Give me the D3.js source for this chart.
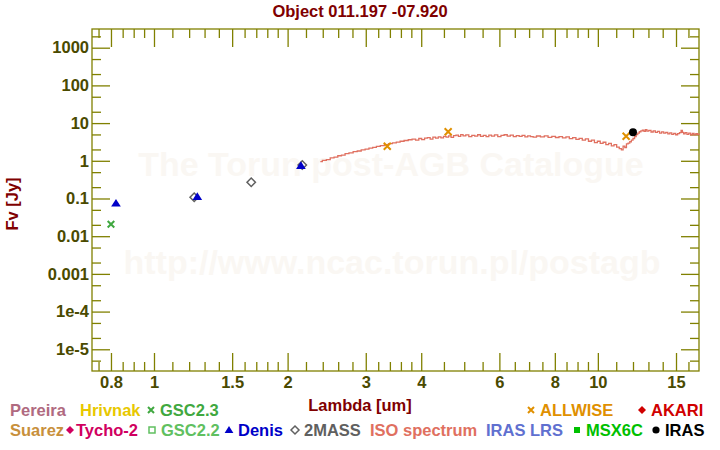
<!DOCTYPE html>
<html>
<head>
<meta charset="utf-8">
<script src="https://cdn.jsdelivr.net/npm/d3@7"></script>
<style>
  html, body { margin: 0; padding: 0; background: #fff; }
  svg { display: block; font-family: "Liberation Sans", Arial, sans-serif; font-weight: bold; }
</style>
</head>
<body>
<svg id="chart" width="720" height="450"></svg>
<script>
// ---------------- data ----------------
const title = "Object 011.197 -07.920";
const xMajorTicks = [0.8, 1, 1.5, 2, 3, 4, 6, 8, 10, 15];
const xTickLabels = ["0.8", "1", "1.5", "2", "3", "4", "6", "8", "10", "15"];
const xMinorTicks = [0.75, 0.85, 0.9, 0.95, 1.1, 1.2, 1.3, 1.4, 1.6, 1.7, 1.8, 1.9,
  2.2, 2.4, 2.6, 2.8, 3.2, 3.4, 3.6, 3.8, 4.5, 5, 5.5, 6.5, 7, 7.5, 8.5, 9, 9.5,
  11, 12, 13, 14, 16];
const yMajorTicks = [1000, 100, 10, 1, 0.1, 0.01, 0.001, 1e-4, 1e-5];
const yTickLabels = ["1000", "100", "10", "1", "0.1", "0.01", "0.001", "1e-4", "1e-5"];
const yMinorTicks = [2000, 500, 200, 50, 20, 5, 2, 0.5, 0.2, 0.05, 0.02, 0.005, 0.002,
  5e-4, 2e-4, 5e-5, 2e-5, 5e-6];

// photometry
const gsc23Lambda = [0.80];
const gsc23Flux = [0.0207];
const denisLambda = [0.821, 1.252, 2.143];
const denisFlux = [0.0746, 0.112, 0.741];
const twomassLambda = [1.232, 1.656, 2.158];
const twomassFlux = [0.108, 0.269, 0.774];
const allwiseLambda = [3.354, 4.60, 11.58];
const allwiseFlux = [2.42, 5.91, 4.47];
const irasLambda = [12.0];
const irasFlux = [5.70];

// ISO spectrum
const isoLambda = [2.37, 2.42, 2.47, 2.52, 2.57, 2.62, 2.67, 2.72, 2.78, 2.84, 2.90, 2.96,
  3.02, 3.08, 3.14, 3.20, 3.27, 3.34, 3.41, 3.48, 3.55, 3.62, 3.70, 3.78, 3.85, 3.92,
  3.98, 4.04, 4.10, 4.16, 4.22, 4.28, 4.34, 4.40, 4.46, 4.52, 4.58, 4.64, 4.70, 4.76,
  4.82, 4.88, 4.94, 5.00, 5.08, 5.16, 5.24, 5.32, 5.40, 5.48, 5.56, 5.64, 5.72, 5.80,
  5.90, 6.00, 6.10, 6.20, 6.30, 6.40, 6.50, 6.60, 6.70, 6.80, 6.90, 7.00, 7.10, 7.20,
  7.35, 7.50, 7.65, 7.80, 7.95, 8.10, 8.25, 8.40, 8.55, 8.70, 8.85, 9.00, 9.15, 9.30,
  9.45, 9.60, 9.75, 9.90, 10.05, 10.20, 10.35, 10.50, 10.65, 10.80, 10.95, 11.10, 11.25,
  11.35, 11.45, 11.55, 11.65, 11.75, 11.85, 11.95, 12.05, 12.15, 12.25, 12.35, 12.45,
  12.55, 12.65, 12.75, 12.85, 12.95, 13.10, 13.25, 13.40, 13.55, 13.70, 13.85, 14.00,
  14.15, 14.30, 14.45, 14.60, 14.75, 14.90, 15.05, 15.20, 15.35, 15.45, 15.55, 15.65,
  15.80, 15.95, 16.10, 16.25, 16.40, 16.55, 16.70, 16.85, 16.95];
const isoFlux = [0.95, 1.02, 1.08, 1.20, 1.25, 1.36, 1.42, 1.55, 1.62, 1.74, 1.82, 1.95,
  2.05, 2.18, 2.28, 2.40, 2.52, 2.68, 2.85, 3.00, 3.12, 3.30, 3.45, 3.62, 3.75, 3.55,
  3.90, 3.65, 4.00, 4.10, 3.75, 4.25, 4.00, 4.30, 4.05, 4.45, 4.25, 4.60, 4.20, 4.65,
  4.80, 4.45, 4.95, 4.60, 4.85, 4.40, 4.75, 4.50, 4.90, 4.45, 4.70, 4.35, 4.80, 4.50,
  4.85, 4.40, 4.75, 4.90, 4.50, 4.80, 4.35, 4.65, 4.45, 4.75, 4.30, 4.60, 4.40, 4.25,
  4.55, 4.30, 4.60, 4.20, 4.45, 4.15, 4.40, 4.05, 4.30, 3.85, 4.10, 3.70, 3.95, 3.55,
  3.80, 3.30, 3.55, 3.05, 3.30, 2.90, 3.10, 2.70, 2.90, 2.50, 2.70, 2.30, 2.10,
  1.95, 2.45, 2.25, 2.80, 2.95, 3.20, 3.55, 3.90, 4.40, 4.95, 5.40, 5.90,
  6.20, 6.45, 6.05, 6.65, 6.15, 6.40, 5.80, 6.20, 5.70, 6.00, 5.45, 5.85,
  5.40, 5.65, 5.20, 5.50, 5.05, 5.35, 4.90, 5.25, 5.60, 6.40, 5.70, 5.15,
  5.60, 5.00, 5.45, 4.90, 5.35, 4.85, 5.25, 4.95, 5.10];

// legend
const legendRow1 = [
  { name: "Pereira", color: "#b06a80", marker: null },
  { name: "Hrivnak", color: "#e8c800", marker: null },
  { name: "GSC2.3", color: "#40a840", marker: "x" },
  { name: "ALLWISE", color: "#e09000", marker: "x" },
  { name: "AKARI", color: "#d00000", marker: "diamond" }
];
const legendRow2 = [
  { name: "Suarez", color: "#c8903c", marker: null },
  { name: "Tycho-2", color: "#d00060", marker: "diamond" },
  { name: "GSC2.2", color: "#60c060", marker: "square-open" },
  { name: "Denis", color: "#0000c8", marker: "triangle" },
  { name: "2MASS", color: "#606060", marker: "diamond-open" },
  { name: "ISO spectrum", color: "#e07060", marker: null },
  { name: "IRAS LRS", color: "#6070d0", marker: null },
  { name: "MSX6C", color: "#00c000", marker: "square" },
  { name: "IRAS", color: "#000000", marker: "circle" }
];

// ---------------- layout ----------------
const plotL = 92, plotR = 699, plotT = 29, plotB = 371;
const axisColor = "#808000", tickTextColor = "#4a4a00", titleColor = "#800000";
const fs = 16.5;

const svg = d3.select("#chart");
const x = d3.scaleLog().domain([0.725, 16.9]).range([plotL, plotR]);
const y = d3.scaleLog().domain([Math.pow(10, -5.576), 3133]).range([plotB, plotT]);

// watermark
const wm = svg.append("g").attr("fill", "#faf7f3").attr("font-size", 34).attr("text-anchor", "middle");
wm.append("text").attr("x", 391).attr("y", 176).text("The Torun post-AGB Catalogue");
wm.append("text").attr("x", 392).attr("y", 274).text("http://www.ncac.torun.pl/postagb");

// axes
function styleAxis(g) {
  g.select(".domain").remove();
  g.selectAll(".tick line").attr("stroke", axisColor).attr("stroke-width", 1.3);
  g.selectAll(".tick text").attr("fill", tickTextColor).attr("font-size", fs)
    .attr("font-weight", "bold").attr("font-family", "'Liberation Sans', Arial, sans-serif");
}
// bottom
svg.append("g").attr("transform", `translate(0,${plotB})`)
  .call(d3.axisBottom(x).tickValues(xMajorTicks).tickSize(-18).tickPadding(5)
    .tickFormat((d, i) => xTickLabels[i])).call(styleAxis);
svg.append("g").attr("transform", `translate(0,${plotB})`)
  .call(d3.axisBottom(x).tickValues(xMinorTicks).tickSize(-9).tickFormat("")).call(styleAxis);
// top
svg.append("g").attr("transform", `translate(0,${plotT})`)
  .call(d3.axisTop(x).tickValues(xMajorTicks).tickSize(-18).tickFormat("")).call(styleAxis);
svg.append("g").attr("transform", `translate(0,${plotT})`)
  .call(d3.axisTop(x).tickValues(xMinorTicks).tickSize(-9).tickFormat("")).call(styleAxis);
// left
svg.append("g").attr("transform", `translate(${plotL},0)`)
  .call(d3.axisLeft(y).tickValues(yMajorTicks).tickSize(-18).tickPadding(3)
    .tickFormat((d, i) => yTickLabels[i])).call(styleAxis);
svg.append("g").attr("transform", `translate(${plotL},0)`)
  .call(d3.axisLeft(y).tickValues(yMinorTicks).tickSize(-9).tickFormat("")).call(styleAxis);
// right
svg.append("g").attr("transform", `translate(${plotR},0)`)
  .call(d3.axisRight(y).tickValues(yMajorTicks).tickSize(-18).tickFormat("")).call(styleAxis);
svg.append("g").attr("transform", `translate(${plotR},0)`)
  .call(d3.axisRight(y).tickValues(yMinorTicks).tickSize(-9).tickFormat("")).call(styleAxis);

// frame
svg.append("rect").attr("x", plotL).attr("y", plotT).attr("width", plotR - plotL)
  .attr("height", plotB - plotT).attr("fill", "none").attr("stroke", axisColor).attr("stroke-width", 1.3);

// titles
svg.append("text").attr("x", 360).attr("y", 17).attr("text-anchor", "middle")
  .attr("fill", titleColor).attr("font-size", fs).text(title);
svg.append("text").attr("x", 360).attr("y", 411).attr("text-anchor", "middle")
  .attr("fill", titleColor).attr("font-size", fs).text("Lambda [um]");
svg.append("text").attr("transform", "translate(18,204) rotate(-90)").attr("text-anchor", "middle")
  .attr("fill", titleColor).attr("font-size", fs).text("Fv [Jy]");

// ISO spectrum
const isoData = isoLambda.map((l, i) => [l, isoFlux[i]]);
svg.append("path").datum(isoData)
  .attr("fill", "none").attr("stroke", "#e07060").attr("stroke-width", 1.3)
  .attr("d", d3.line().x(d => x(d[0])).y(d => y(d[1])).curve(d3.curveStep));

// marker shapes
const shapes = {
  x: r => `M${-r},${-r}L${r},${r}M${-r},${r}L${r},${-r}`,
  diamond: r => `M0,${-r}L${r},0L0,${r}L${-r},0Z`,
  triangle: r => `M0,${-r}L${r * 1.1},${r * 0.75}L${-r * 1.1},${r * 0.75}Z`,
  square: r => `M${-r},${-r}H${r}V${r}H${-r}Z`
};
function drawMarker(g, type, color, r) {
  if (type === "x") {
    g.append("path").attr("d", shapes.x(r)).attr("stroke", color).attr("stroke-width", 2).attr("fill", "none");
  } else if (type === "diamond") {
    g.append("path").attr("d", shapes.diamond(r)).attr("fill", color);
  } else if (type === "diamond-open") {
    g.append("path").attr("d", shapes.diamond(r)).attr("fill", "none").attr("stroke", color).attr("stroke-width", 1.5);
  } else if (type === "triangle") {
    g.append("path").attr("d", shapes.triangle(r)).attr("fill", color);
  } else if (type === "square") {
    g.append("path").attr("d", shapes.square(r)).attr("fill", color);
  } else if (type === "square-open") {
    g.append("path").attr("d", shapes.square(r)).attr("fill", "none").attr("stroke", color).attr("stroke-width", 1.5);
  } else if (type === "circle") {
    g.append("circle").attr("r", r).attr("fill", color);
  }
}
function plotSeries(lams, fluxes, type, color, r) {
  lams.forEach((l, i) => {
    const g = svg.append("g").attr("transform", `translate(${x(l)},${y(fluxes[i])})`);
    drawMarker(g, type, color, r);
  });
}
plotSeries(gsc23Lambda, gsc23Flux, "x", "#40a840", 3.3);
plotSeries(twomassLambda, twomassFlux, "diamond-open", "#606060", 4.2);
plotSeries(denisLambda, denisFlux, "triangle", "#0000c8", 4.4);
plotSeries(allwiseLambda, allwiseFlux, "x", "#e09000", 3.5);
plotSeries(irasLambda, irasFlux, "circle", "#000000", 4);

// legend
const row1X = [10, 80, 150, 530, 641];
const row2X = [10, 69, 151, 228, 294, 370, 486, 576, 655];
function drawLegendRow(items, xs, baseline) {
  items.forEach((it, i) => {
    let tx = xs[i];
    if (it.marker) {
      const g = svg.append("g").attr("transform", `translate(${xs[i] + 1},${baseline - 5.5})`);
      const r = it.marker === "circle" ? 3.6 : (it.marker === "x" ? 3 : (it.marker.startsWith("square") ? 3 : 4));
      drawMarker(g, it.marker, it.color, r);
      tx = xs[i] + (it.marker === "diamond" && it.name === "Tycho-2" ? 7 : 10);
    }
    svg.append("text").attr("x", tx).attr("y", baseline).attr("fill", it.color)
      .attr("font-size", fs).text(it.name);
  });
}
drawLegendRow(legendRow1, row1X, 415.5);
drawLegendRow(legendRow2, row2X, 435.5);
</script>
</body>
</html>
